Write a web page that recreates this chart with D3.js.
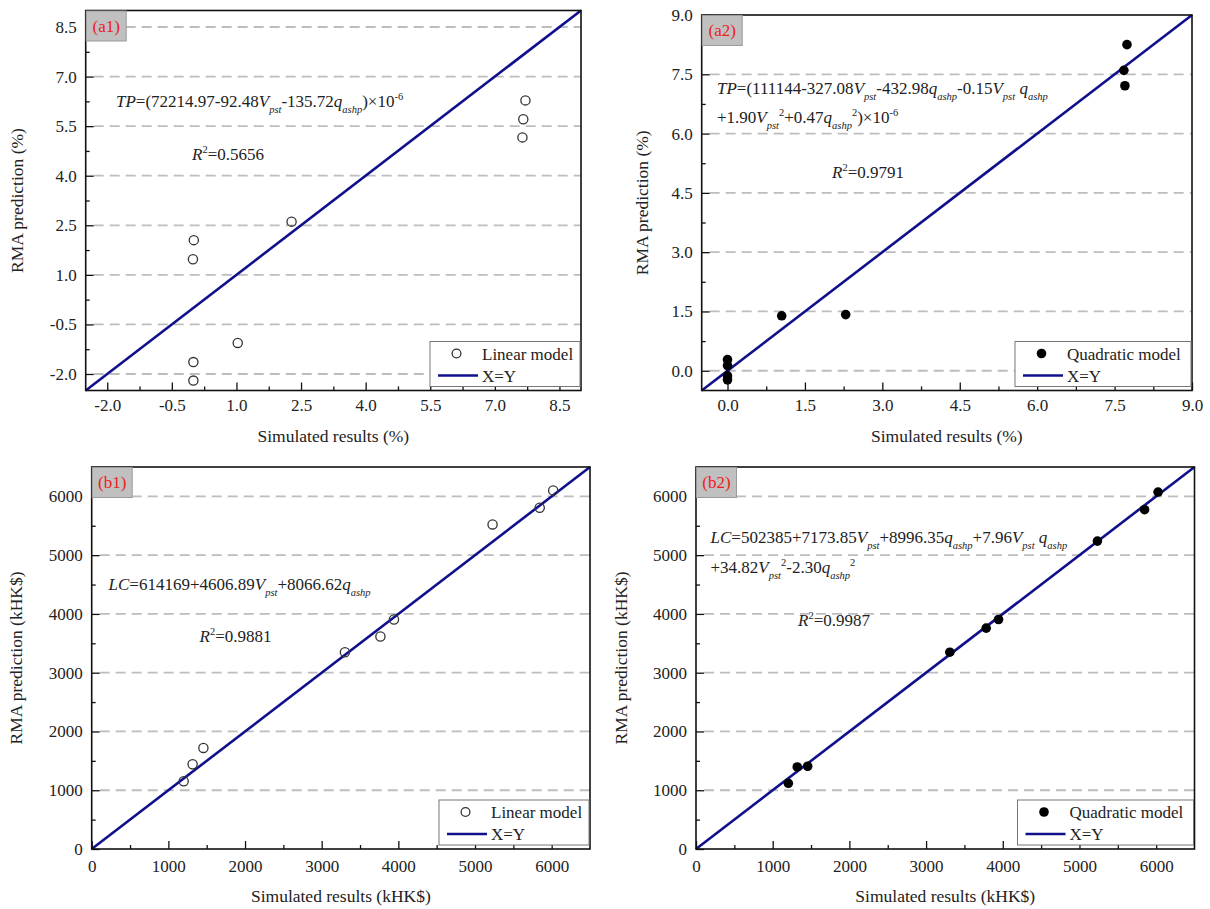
<!DOCTYPE html>
<html>
<head>
<meta charset="utf-8">
<script src="https://cdn.jsdelivr.net/npm/d3@7"></script>
<style>
  body { margin: 0; background: #fff; }
  svg text { font-family: "Liberation Serif", "Times New Roman", serif; }
</style>
</head>
<body>
<div id="container"></div>
<script>
const width = 1210;
const height = 909;

// tick values
const pctTicksA1 = [-2.0, -0.5, 1.0, 2.5, 4.0, 5.5, 7.0, 8.5];
const pctTicksA2 = [0.0, 1.5, 3.0, 4.5, 6.0, 7.5, 9.0];
const costTicks = [0, 1000, 2000, 3000, 4000, 5000, 6000];

// (a1) linear model, TP
const a1Sim = [7.71, 7.66, 7.64, 2.28, 0.01, -0.01, 1.03, 0.0, 0.0];
const a1Pred = [6.28, 5.71, 5.16, 2.61, 2.05, 1.47, -1.06, -1.64, -2.20];

// (a2) quadratic model, TP
const a2Sim = [7.74, 7.68, 7.70, 1.05, 2.29, 0.0, 0.0, 0.0, 0.0];
const a2Pred = [8.25, 7.60, 7.21, 1.39, 1.42, 0.28, 0.13, -0.13, -0.23];

// (b1) linear model, LC
const b1Sim = [6020, 5844, 5229, 3943, 3766, 3303, 1457, 1316, 1200];
const b1Pred = [6102, 5807, 5523, 3905, 3616, 3349, 1720, 1442, 1152];

// (b2) quadratic model, LC
const b2Sim = [6025, 5849, 5234, 3945, 3784, 3310, 1456, 1320, 1204];
const b2Pred = [6074, 5773, 5239, 3905, 3758, 3349, 1408, 1396, 1118];

// equation texts: [text, style]  style: i = italic, sub, sup
const eqA1 = [[['TP', 'i'], ['=(72214.97-92.48'], ['V', 'i'], ['pst', 'sub'], ['-135.72'], ['q', 'i'], ['ashp', 'sub'], [')×10'], ['-6', 'sup']]];
const eqA2 = [
    [['TP', 'i'], ['=(111144-327.08'], ['V', 'i'], ['pst', 'sub'], ['-432.98'], ['q', 'i'], ['ashp', 'sub'], ['-0.15'], ['V', 'i'], ['pst', 'sub'], [' '], ['q', 'i'], ['ashp', 'sub']],
    [['+1.90'], ['V', 'i'], ['pst', 'sub'], ['2', 'sup'], ['+0.47'], ['q', 'i'], ['ashp', 'sub'], ['2', 'sup'], [')×10'], ['-6', 'sup']]
];
const eqB1 = [[['LC', 'i'], ['=614169+4606.89'], ['V', 'i'], ['pst', 'sub'], ['+8066.62'], ['q', 'i'], ['ashp', 'sub']]];
const eqB2 = [
    [['LC', 'i'], ['=502385+7173.85'], ['V', 'i'], ['pst', 'sub'], ['+8996.35'], ['q', 'i'], ['ashp', 'sub'], ['+7.96'], ['V', 'i'], ['pst', 'sub'], [' '], ['q', 'i'], ['ashp', 'sub']],
    [['+34.82'], ['V', 'i'], ['pst', 'sub'], ['2', 'sup'], ['-2.30'], ['q', 'i'], ['ashp', 'sub'], ['2', 'sup']]
];

const NAVY = '#10108c';
const GRID = '#bdbdbd';
const TEXT = '#222';

const svg = d3.select('#container').append('svg')
    .attr('width', width)
    .attr('height', height)
    .attr('viewBox', `0 0 ${width} ${height}`);

function richText(g, x, y, segs, size) {
    let t = g.append('text')
        .attr('x', x)
        .attr('y', y)
        .attr('font-size', size)
        .attr('fill', TEXT);
    let shift = 0;
    segs.forEach(s => {
        let style = s[1];
        let target = 0;
        if (style == 'sub') target = 6;
        if (style == 'sup') target = -7;
        let ts = t.append('tspan').text(s[0]).attr('dy', target - shift);
        shift = target;
        if (style == 'i' || style == 'sub') ts.attr('font-style', 'italic');
        if (style == 'sub' || style == 'sup') ts.attr('font-size', 10.5);
    });
}

function drawPanel(p) {
    let x = d3.scaleLinear().domain(p.domain).range([p.left, p.right]);
    let y = d3.scaleLinear().domain(p.domain).range([p.bottom, p.top]);
    let g = svg.append('g');

    // dashed grid
    g.append('g')
        .selectAll('line')
        .data(p.grid)
        .join('line')
        .attr('x1', p.left + 8)
        .attr('x2', p.right)
        .attr('y1', d => y(d))
        .attr('y2', d => y(d))
        .attr('stroke', GRID)
        .attr('stroke-width', 1.8)
        .attr('stroke-dasharray', '10,6');

    // X=Y line
    g.append('line')
        .attr('x1', x(p.domain[0]))
        .attr('y1', y(p.domain[0]))
        .attr('x2', x(p.domain[1]))
        .attr('y2', y(p.domain[1]))
        .attr('stroke', NAVY)
        .attr('stroke-width', 2.6);

    // points
    g.append('g')
        .selectAll('circle')
        .data(p.sim.map((d, i) => [d, p.pred[i]]))
        .join('circle')
        .attr('cx', d => x(d[0]))
        .attr('cy', d => y(d[1]))
        .attr('r', p.filled ? 4.8 : 4.6)
        .attr('fill', p.filled ? '#000' : 'none')
        .attr('stroke', p.filled ? 'none' : '#333')
        .attr('stroke-width', 1.3);

    // equations
    p.eq.forEach((line, i) => richText(g, p.eqX, p.eqY + i * p.eqGap, line, 17));
    richText(g, p.r2X, p.r2Y, [['R', 'i'], ['2', 'sup'], ['=' + p.r2]], 17);

    // axes
    let fmt = p.fmt;
    g.append('g')
        .attr('transform', `translate(0,${p.bottom})`)
        .call(d3.axisBottom(x).tickValues(p.ticks).tickFormat(fmt)
            .tickSizeInner(-8).tickSizeOuter(0).tickPadding(p.xPad));
    g.append('g')
        .attr('transform', `translate(0,${p.bottom})`)
        .call(d3.axisBottom(x).tickValues(p.minor).tickFormat(() => '')
            .tickSizeInner(-4).tickSizeOuter(0));
    g.append('g')
        .attr('transform', `translate(${p.left},0)`)
        .call(d3.axisLeft(y).tickValues(p.ticks).tickFormat(fmt)
            .tickSizeInner(-8).tickSizeOuter(0).tickPadding(9));
    g.append('g')
        .attr('transform', `translate(${p.left},0)`)
        .call(d3.axisLeft(y).tickValues(p.minor).tickFormat(() => '')
            .tickSizeInner(-4).tickSizeOuter(0));
    g.selectAll('.domain').remove();
    g.selectAll('.tick line').attr('stroke', '#111').attr('stroke-width', 1.3);
    g.selectAll('.tick text')
        .attr('font-size', 17)
        .attr('fill', TEXT)
        .style('font-family', '"Liberation Serif", "Times New Roman", serif');

    // frame
    g.append('rect')
        .attr('x', p.left)
        .attr('y', p.top)
        .attr('width', p.right - p.left)
        .attr('height', p.bottom - p.top)
        .attr('fill', 'none')
        .attr('stroke', '#111')
        .attr('stroke-width', 1.6);

    // legend
    let lw = p.filled ? 176 : 150;
    let lg = g.append('g')
        .attr('transform', `translate(${p.right - 1 - lw},${p.bottom - 4 - 45})`);
    lg.append('rect')
        .attr('width', lw)
        .attr('height', 45)
        .attr('fill', '#fff')
        .attr('stroke', '#777')
        .attr('stroke-width', 1);
    lg.append('circle')
        .attr('cx', 26.5)
        .attr('cy', 12)
        .attr('r', p.filled ? 4.8 : 4.4)
        .attr('fill', p.filled ? '#000' : 'none')
        .attr('stroke', p.filled ? 'none' : '#333')
        .attr('stroke-width', 1.3);
    lg.append('text')
        .attr('x', 52)
        .attr('y', 18)
        .attr('font-size', 17)
        .attr('fill', TEXT)
        .text(p.legend);
    lg.append('line')
        .attr('x1', 8)
        .attr('x2', 48)
        .attr('y1', 34)
        .attr('y2', 34)
        .attr('stroke', NAVY)
        .attr('stroke-width', 2.6);
    lg.append('text')
        .attr('x', 52)
        .attr('y', 40)
        .attr('font-size', 17)
        .attr('fill', TEXT)
        .text('X=Y');

    // panel tag
    g.append('rect')
        .attr('x', p.left + 0.5)
        .attr('y', p.top + 0.5)
        .attr('width', 40)
        .attr('height', 30)
        .attr('fill', '#c0c0c0')
        .attr('stroke', '#9a9a9a');
    g.append('text')
        .attr('x', p.left + 20.5)
        .attr('y', p.top + 21)
        .attr('text-anchor', 'middle')
        .attr('font-size', 17)
        .attr('fill', '#ee1c1c')
        .text(p.tag);

    // axis titles
    g.append('text')
        .attr('x', (p.left + p.right) / 2)
        .attr('y', p.xTitleY)
        .attr('text-anchor', 'middle')
        .attr('font-size', 17.5)
        .attr('fill', TEXT)
        .text(p.xTitle);
    g.append('text')
        .attr('transform', `translate(${p.yTitleX},${(p.top + p.bottom) / 2}) rotate(-90)`)
        .attr('text-anchor', 'middle')
        .attr('dy', '0.35em')
        .attr('font-size', 17.5)
        .attr('fill', TEXT)
        .text(p.yTitle);
}

const pctFmt = d => d.toFixed(1);
const costFmt = d => String(d);

drawPanel({
    tag: '(a1)', left: 85.7, right: 581, top: 10.5, bottom: 390.5,
    domain: [-2.5, 9.0], ticks: pctTicksA1, grid: pctTicksA1,
    minor: d3.range(-2.75, 9.0, 1.5).filter(v => v > -2.5),
    fmt: pctFmt, xPad: 8.5,
    sim: a1Sim, pred: a1Pred, filled: false, legend: 'Linear model',
    eq: eqA1, eqX: 116, eqY: 106.5, eqGap: 30,
    r2: '0.5656', r2X: 192, r2Y: 160,
    xTitle: 'Simulated results (%)', xTitleY: 442, yTitle: 'RMA prediction (%)', yTitleX: 17
});

drawPanel({
    tag: '(a2)', left: 701.7, right: 1192, top: 15, bottom: 390.5,
    domain: [-0.5, 9.0], ticks: pctTicksA2, grid: pctTicksA2.slice(0, 6),
    minor: d3.range(0.75, 9.0, 1.5),
    fmt: pctFmt, xPad: 8.5,
    sim: a2Sim, pred: a2Pred, filled: true, legend: 'Quadratic model',
    eq: eqA2, eqX: 717, eqY: 94, eqGap: 28.5,
    r2: '0.9791', r2X: 832, r2Y: 178,
    xTitle: 'Simulated results (%)', xTitleY: 442, yTitle: 'RMA prediction (%)', yTitleX: 642
});

drawPanel({
    tag: '(b1)', left: 91.7, right: 590, top: 467, bottom: 849,
    domain: [0, 6500], ticks: costTicks, grid: costTicks.slice(1),
    minor: d3.range(500, 6500, 1000),
    fmt: costFmt, xPad: 11,
    sim: b1Sim, pred: b1Pred, filled: false, legend: 'Linear model',
    eq: eqB1, eqX: 108.5, eqY: 590, eqGap: 30,
    r2: '0.9881', r2X: 199.5, r2Y: 642,
    xTitle: 'Simulated results (kHK$)', xTitleY: 902, yTitle: 'RMA prediction (kHK$)', yTitleX: 16
});

drawPanel({
    tag: '(b2)', left: 696, right: 1194.5, top: 467, bottom: 849,
    domain: [0, 6500], ticks: costTicks, grid: costTicks.slice(1),
    minor: d3.range(500, 6500, 1000),
    fmt: costFmt, xPad: 11,
    sim: b2Sim, pred: b2Pred, filled: true, legend: 'Quadratic model',
    eq: eqB2, eqX: 710.5, eqY: 543, eqGap: 29.5,
    r2: '0.9987', r2X: 798, r2Y: 626,
    xTitle: 'Simulated results (kHK$)', xTitleY: 902, yTitle: 'RMA prediction (kHK$)', yTitleX: 620.5
});
</script>
</body>
</html>
